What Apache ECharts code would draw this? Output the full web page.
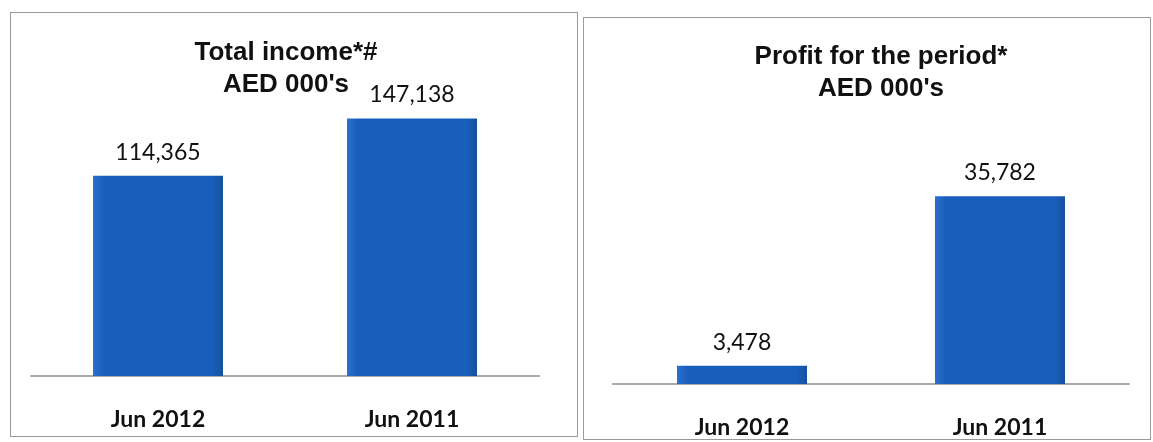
<!DOCTYPE html>
<html>
<head>
<meta charset="utf-8">
<script src="https://cdn.jsdelivr.net/npm/echarts@6/dist/echarts.min.js"></script>
<style>
  html, body { margin: 0; padding: 0; background: #fff; }
  .panel { position: absolute; box-sizing: border-box; border: 1px solid #9a9a9a; background: #fff; }
  #income { left: 10px; top: 12px; width: 568px; height: 425px; }
  #profit { left: 583px; top: 17px; width: 568px; height: 423px; }
</style>
</head>
<body>
<div id="income" class="panel"></div>
<div id="profit" class="panel"></div>
<script>
const periods = ["Jun 2012", "Jun 2011"];
const incomeValues = [114365, 147138];
const profitValues = [3478, 35782];

const barColor = new echarts.graphic.LinearGradient(0, 0, 1, 0, [
  { offset: 0, color: "#2c70cc" },
  { offset: 0.08, color: "#1a5ebb" },
  { offset: 0.92, color: "#1a5ebb" },
  { offset: 1, color: "#15509c" },
]);

function fmt(v) {
  return v.toLocaleString("en-US");
}

function makeOption(cfg) {
  return {
    animation: false,
    title: {
      text: cfg.title,
      left: cfg.titleX,
      top: cfg.titleTop,
      textAlign: "center",
      textStyle: {
        fontFamily: "Liberation Sans",
        fontWeight: "bold",
        fontSize: 26,
        lineHeight: 32,
        color: "#111",
      },
    },
    grid: cfg.grid,
    xAxis: {
      type: "category",
      data: periods,
      axisLine: { lineStyle: { color: "#a8a8a8", width: 2 } },
      axisTick: { show: false },
      axisLabel: {
        margin: cfg.labelMargin,
        fontFamily: "Lato",
        fontWeight: "bold",
        fontSize: 23,
        color: "#111",
      },
    },
    yAxis: {
      type: "value",
      min: 0,
      max: cfg.max,
      show: false,
      splitLine: { show: false },
    },
    series: [
      {
        type: "bar",
        data: cfg.values,
        barWidth: 130,
        itemStyle: { color: barColor },
        label: {
          show: true,
          position: "top",
          distance: 12,
          fontFamily: "Lato",
          fontSize: 23,
          color: "#111",
          formatter: (p) => fmt(p.value),
        },
      },
    ],
  };
}

const incomeChart = echarts.init(document.getElementById("income"));
incomeChart.setOption(makeOption({
  title: "Total income*#\nAED 000's",
  titleX: 270,
  titleTop: 19,
  grid: { left: 20, right: 38, top: 83, bottom: 60 },
  labelMargin: 32,
  max: 160000,
  values: incomeValues,
}));

const profitChart = echarts.init(document.getElementById("profit"));
profitChart.setOption(makeOption({
  title: "Profit for the period*\nAED 000's",
  titleX: 292,
  titleTop: 18,
  grid: { left: 29, right: 21, top: 156, bottom: 55 },
  labelMargin: 32,
  max: 40000,
  values: profitValues,
}));
</script>
</body>
</html>
